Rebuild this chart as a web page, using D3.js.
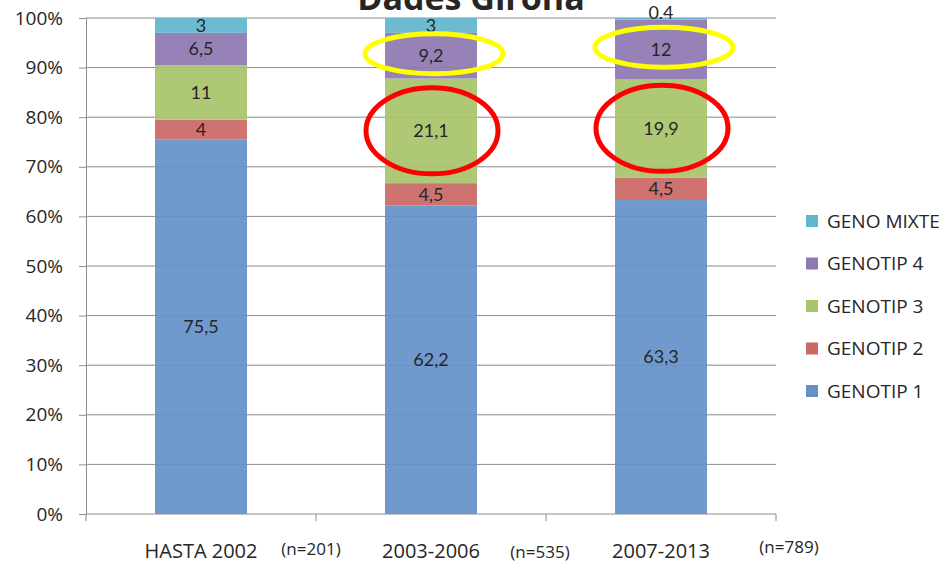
<!DOCTYPE html>
<html lang="ca">
<head>
<meta charset="utf-8">
<title>Dades Girona</title>
<script src="https://d3js.org/d3.v7.min.js"></script>
<style>
  body { margin: 0; background: #fff; }
  text { fill: #262626; }
</style>
</head>
<body>
<script>
// categories and sample sizes
var categories = ["HASTA 2002", "2003-2006", "2007-2013"];
var sampleSizes = ["(n=201)", "(n=535)", "(n=789)"];

// series values (% per period), bottom to top
var genotip1 = [75.5, 62.2, 63.3];
var genotip2 = [4, 4.5, 4.5];
var genotip3 = [11, 21.1, 19.9];
var genotip4 = [6.5, 9.2, 12];
var genoMixte = [3, 3, 0.4];
var mixteLabels = ["3", "3", "0.4"];

var seriesNames = ["GENOTIP 1", "GENOTIP 2", "GENOTIP 3", "GENOTIP 4", "GENO MIXTE"];
var seriesValues = [genotip1, genotip2, genotip3, genotip4, genoMixte];
var colors = ["#6591c9", "#cb6866", "#a8c46c", "#8e79b1", "#62b6cd"];

var yTicks = [0, 10, 20, 30, 40, 50, 60, 70, 80, 90, 100];

// highlighted segments: [series index, category index]
var yellowMarks = [[3, 1], [3, 2]];
var redMarks = [[2, 1], [2, 2]];

var w = 947, h = 563;
var plotLeft = 86, plotRight = 776, plotTop = 18, plotBottom = 514;

var svg = d3.select("body").append("svg").attr("width", w).attr("height", h);

var x = d3.scaleBand().domain(categories).range([plotLeft, plotRight])
  .paddingInner(0.6).paddingOuter(0.3);
var y = d3.scaleLinear().domain([0, 100]).range([plotBottom, plotTop]);

// build table for stack
var table = categories.map(function(c, i) {
  var row = { cat: c };
  seriesNames.forEach(function(s, j) { row[s] = seriesValues[j][i]; });
  return row;
});
var stacked = d3.stack().keys(seriesNames)(table);

// gridlines
svg.append("g").selectAll("line").data(yTicks.slice(1)).enter().append("line")
  .attr("x1", plotLeft).attr("x2", plotRight)
  .attr("y1", function(d) { return y(d); }).attr("y2", function(d) { return y(d); })
  .attr("stroke", "#8c8c8c").attr("stroke-width", 1);

// bars
var layer = svg.append("g").selectAll("g").data(stacked).enter().append("g")
  .attr("fill", function(d, i) { return colors[i]; });
layer.selectAll("rect").data(function(d) { return d; }).enter().append("rect")
  .attr("x", function(d) { return x(d.data.cat); })
  .attr("width", x.bandwidth())
  .attr("y", function(d) { return y(Math.min(d[1], 100)); })
  .attr("height", function(d) { return y(d[0]) - y(Math.min(d[1], 100)); })
  .attr("fill-opacity", 0.93);

// data labels
var fmt = function(v) { return String(v).replace(".", ","); };
stacked.forEach(function(s, j) {
  svg.append("g").selectAll("text").data(s).enter().append("text")
    .attr("x", function(d) { return x(d.data.cat) + x.bandwidth() / 2; })
    .attr("y", function(d) {
      var mid = (y(d[0]) + y(Math.min(d[1], 100))) / 2;
      if (y(d[0]) - y(d[1]) < 8) mid -= 6;
      return mid;
    })
    .attr("dy", "0.35em")
    .attr("text-anchor", "middle")
    .style("font-family", "Lato, 'Open Sans', sans-serif")
    .style("font-size", "18px")
    .text(function(d, i) { return j === 4 ? mixteLabels[i] : fmt(seriesValues[j][i]); });
});

// highlight ellipses
function segCenter(m) {
  var d = stacked[m[0]][m[1]];
  return [x(d.data.cat) + x.bandwidth() / 2, (y(d[0]) + y(d[1])) / 2];
}
svg.append("g").selectAll("ellipse").data(redMarks).enter().append("ellipse")
  .attr("cx", function(d) { return segCenter(d)[0] + 1; })
  .attr("cy", function(d) { return segCenter(d)[1]; })
  .attr("rx", 66).attr("ry", 43)
  .attr("fill", "none").attr("stroke", "#ff0000").attr("stroke-width", 5);
svg.append("g").selectAll("ellipse").data(yellowMarks).enter().append("ellipse")
  .attr("cx", function(d) { return segCenter(d)[0] + 3; })
  .attr("cy", function(d) { return segCenter(d)[1] - 2; })
  .attr("rx", 69).attr("ry", 20)
  .attr("fill", "none").attr("stroke", "#ffff00").attr("stroke-width", 5);

// y axis
var yAxis = d3.axisLeft(y).tickValues(yTicks).tickSize(7).tickPadding(16)
  .tickFormat(function(d) { return d + "%"; });
var gy = svg.append("g").attr("transform", "translate(" + plotLeft + ",0)").call(yAxis);
gy.selectAll("path, line").attr("stroke", "#8c8c8c");
gy.selectAll("text").style("font-family", "'Open Sans', sans-serif").style("font-size", "19px").attr("fill", "#262626");

// x axis
var gx = svg.append("g").attr("transform", "translate(0," + plotBottom + ")");
gx.append("line").attr("x1", plotLeft).attr("x2", plotRight).attr("stroke", "#8c8c8c");
var bounds = [plotLeft].concat(categories.map(function(c) { return x(c) + x.bandwidth() + x.step() * 0.3; }));
gx.selectAll(".tk").data(bounds).enter().append("line").attr("class", "tk")
  .attr("x1", function(d) { return d; }).attr("x2", function(d) { return d; })
  .attr("y1", 0).attr("y2", 7).attr("stroke", "#8c8c8c");
gx.selectAll(".cat").data(categories).enter().append("text").attr("class", "cat")
  .attr("x", function(d) { return x(d) + x.bandwidth() / 2; })
  .attr("y", 44).attr("text-anchor", "middle")
  .style("font-family", "'Open Sans', sans-serif").style("font-size", "20px")
  .text(function(d) { return d; });
gx.selectAll(".n").data(sampleSizes).enter().append("text").attr("class", "n")
  .attr("x", function(d, i) { return bounds[i + 1] + [-5, -6, 13][i]; })
  .attr("y", function(d, i) { return [41, 44, 39][i]; })
  .attr("text-anchor", "middle")
  .style("font-family", "'Open Sans', sans-serif").style("font-size", "17px")
  .text(function(d) { return d; });

// legend
var legend = svg.append("g").selectAll("g").data(seriesNames.slice().reverse()).enter().append("g")
  .attr("transform", function(d, i) { return "translate(806," + (221 + i * 42.5) + ")"; });
legend.append("rect").attr("x", 0).attr("y", -6).attr("width", 12).attr("height", 12)
  .attr("fill", function(d) { return colors[seriesNames.indexOf(d)]; });
legend.append("text").attr("x", 21).attr("dy", "0.36em")
  .style("font-family", "'Open Sans', sans-serif").style("font-size", "19px")
  .text(function(d) { return d; });

// title (cut off at top)
svg.append("text").attr("x", 471).attr("y", 10).attr("text-anchor", "middle")
  .style("font-family", "'Open Sans', sans-serif").style("font-size", "34px").style("font-weight", "bold")
  .text("Dades Girona");
</script>
</body>
</html>
